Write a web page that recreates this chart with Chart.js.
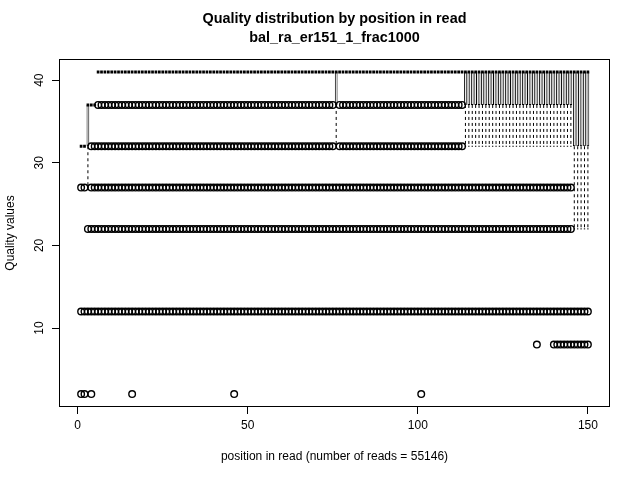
<!DOCTYPE html>
<html>
<head>
<meta charset="utf-8">
<title>Quality distribution by position in read</title>
<script src="https://cdn.jsdelivr.net/npm/chart.js@4.4.0/dist/chart.umd.min.js"></script>
<style>
  html, body { margin: 0; padding: 0; background: #fff; }
  #wrap { width: 640px; height: 480px; }
</style>
</head>
<body>
<div id="wrap"><canvas id="qualChart" width="640" height="480"></canvas></div>
<script>
// text
const titleLines = ['Quality distribution by position in read', 'bal_ra_er151_1_frac1000'];
const xTitle = 'position in read (number of reads = 55146)';
const yTitle = 'Quality values';
const xTicks = [0, 50, 100, 150];
const yTicks = [10, 20, 30, 40];

// box stats, one entry per run of read positions sharing the same summary
const runFrom   = [1, 3, 4, 6, 76, 77, 114, 146];
const runTo     = [2, 3, 5, 75, 76, 113, 145, 150];
const whiskLow  = [32, 27, 37, 41, 32, 41, 32, 22];
const boxLow    = [32, 32, 37, 41, 37, 41, 37, 32];
const boxMedian = [32, 37, 37, 41, 41, 41, 41, 41];
const boxHigh   = [32, 37, 37, 41, 41, 41, 41, 41];
const whiskHigh = [32, 37, 37, 41, 41, 41, 41, 41];

// outliers: value, first and last position where it is drawn
const outValue = [37, 37, 32, 32, 27, 27, 22, 12, 8, 8, 2, 2, 2, 2, 2];
const outFrom  = [6, 77, 4, 77, 1, 4, 3, 1, 135, 140, 1, 4, 16, 46, 101];
const outTo    = [75, 113, 75, 113, 2, 145, 145, 150, 135, 150, 2, 4, 16, 46, 101];

const FONT = "'Liberation Sans', Arial, Helvetica, sans-serif";

// build the datasets from the runs
let boxes = [], medians = [], whiskers = [], staples = [], outliers = [];
for (let r = 0; r < runFrom.length; r++) {
    for (let p = runFrom[r]; p <= runTo[r]; p++) {
        medians.push({x: p - 0.4, y: boxMedian[r]}, {x: p + 0.4, y: boxMedian[r]}, {x: p + 0.4, y: null});
        if (boxHigh[r] > boxLow[r]) {
            boxes.push({x: p, y: [boxLow[r], boxHigh[r]]});
            staples.push({x: p - 0.2, y: whiskLow[r]}, {x: p + 0.2, y: whiskLow[r]}, {x: p + 0.2, y: null});
            staples.push({x: p - 0.2, y: whiskHigh[r]}, {x: p + 0.2, y: whiskHigh[r]}, {x: p + 0.2, y: null});
        }
        if (whiskLow[r] < boxLow[r]) {
            whiskers.push({x: p, y: boxLow[r]}, {x: p, y: whiskLow[r]}, {x: p, y: null});
        }
        if (whiskHigh[r] > boxHigh[r]) {
            whiskers.push({x: p, y: boxHigh[r]}, {x: p, y: whiskHigh[r]}, {x: p, y: null});
        }
    }
}
for (let i = 0; i < outValue.length; i++) {
    for (let p = outFrom[i]; p <= outTo[i]; p++) {
        outliers.push({x: p, y: outValue[i]});
    }
}

// R style frame round the plot region
const frame = {
    id: 'frame',
    afterDraw(chart) {
        const {ctx, chartArea: a} = chart;
        ctx.save();
        ctx.strokeStyle = '#000';
        ctx.lineWidth = 1;
        ctx.strokeRect(Math.round(a.left) + 0.5, Math.round(a.top) + 0.5,
            Math.round(a.right - a.left) - 1, Math.round(a.bottom - a.top) - 1);
        ctx.restore();
    }
};

const axisGrid = {drawOnChartArea: false, drawTicks: true, tickLength: 7, color: '#000', offset: false};

new Chart(document.getElementById('qualChart'), {
    type: 'bar',
    data: {
        datasets: [{
            type: 'line',
            label: 'outliers',
            data: outliers,
            showLine: false,
            pointStyle: 'circle',
            pointRadius: 3.3,
            pointBorderWidth: 1.4,
            pointBorderColor: '#000',
            pointBackgroundColor: 'rgba(0,0,0,0)',
            order: 0
        }, {
            type: 'line',
            label: 'median',
            data: medians,
            borderColor: '#000',
            borderWidth: 3,
            borderCapStyle: 'butt',
            pointRadius: 0,
            spanGaps: false,
            tension: 0,
            order: 1
        }, {
            type: 'bar',
            label: 'box',
            data: boxes,
            backgroundColor: '#fff',
            borderColor: '#000',
            borderWidth: 1,
            borderSkipped: false,
            barPercentage: 0.8,
            categoryPercentage: 1,
            order: 2
        }, {
            type: 'line',
            label: 'staple',
            data: staples,
            borderColor: '#000',
            borderWidth: 1,
            pointRadius: 0,
            spanGaps: false,
            order: 3
        }, {
            type: 'line',
            label: 'whisker',
            data: whiskers,
            borderColor: '#000',
            borderWidth: 1,
            borderDash: [3, 3],
            pointRadius: 0,
            spanGaps: false,
            order: 4
        }]
    },
    options: {
        responsive: false,
        animation: false,
        events: [],
        layout: {padding: {left: 0, right: 30, top: 0, bottom: 0}},
        plugins: {
            legend: {display: false},
            tooltip: {enabled: false},
            title: {
                display: true,
                text: titleLines,
                fullSize: false,
                color: '#000',
                font: {family: FONT, size: 14.4, weight: 'bold', lineHeight: 1.32},
                padding: {top: 10, bottom: 11}
            }
        },
        scales: {
            x: {
                type: 'linear',
                min: -5.5,
                max: 156.5,
                bounds: 'data',
                offset: false,
                afterBuildTicks: s => { s.ticks = xTicks.map(v => ({value: v})); },
                afterFit: s => { s.height = 73; },
                grid: axisGrid,
                border: {display: false},
                ticks: {autoSkip: false, maxRotation: 0, padding: 4, color: '#000', font: {family: FONT, size: 12}},
                title: {display: true, text: xTitle, color: '#000', font: {family: FONT, size: 12}, padding: {top: 0, bottom: 16}}
            },
            y: {
                type: 'linear',
                min: 0.44,
                max: 42.56,
                bounds: 'data',
                afterBuildTicks: s => { s.ticks = yTicks.map(v => ({value: v})); },
                afterFit: s => { s.width = 59; },
                grid: axisGrid,
                border: {display: false},
                ticks: {minRotation: 90, maxRotation: 90, crossAlign: 'center', padding: 6, color: '#000', font: {family: FONT, size: 12}},
                title: {display: true, text: yTitle, color: '#000', font: {family: FONT, size: 12}, padding: {top: 3, bottom: 0}}
            }
        }
    },
    plugins: [frame]
});
</script>
</body>
</html>
